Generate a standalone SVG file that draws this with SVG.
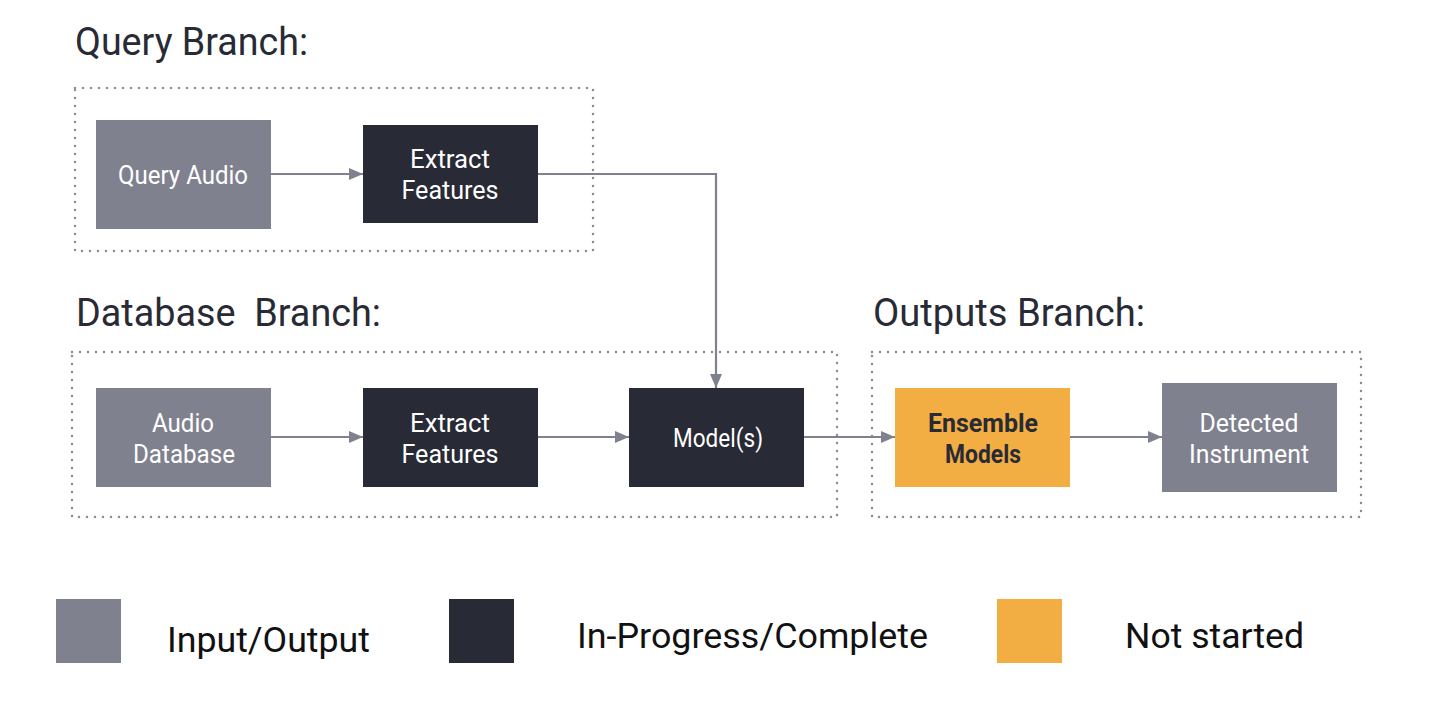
<svg xmlns="http://www.w3.org/2000/svg" width="1430" height="702" viewBox="0 0 1430 702">
<style>
.title{font-family:Roboto,"Liberation Sans",sans-serif;font-size:38px;fill:#282a35}
.lbl{font-family:Roboto,"Liberation Sans",sans-serif;font-size:25px;fill:#ffffff;text-anchor:middle}
.lblb{font-family:Roboto,"Liberation Sans",sans-serif;font-size:25px;font-weight:bold;fill:#282a35;text-anchor:middle}
.leg{font-family:Roboto,"Liberation Sans",sans-serif;font-size:35px;fill:#111111}
.io{fill:#7f818f}
.dk{fill:#282a35}
.ns{fill:#f2ae42}
.grp{fill:none;stroke:#8a8c99;stroke-width:2.5;stroke-linecap:round;stroke-dasharray:0 8}
.con{fill:none;stroke:#7f818f;stroke-width:2.2}
</style>
<defs>
<marker id="arr" markerWidth="14" markerHeight="12" refX="14" refY="6" orient="auto" markerUnits="userSpaceOnUse">
<path d="M0,0 L14,6 L0,12 Z" fill="#7f818f"/>
</marker>
</defs>
<rect width="1430" height="702" fill="#ffffff"/>

<g id="titles">
<text class="title" x="75" y="55" textLength="233" lengthAdjust="spacingAndGlyphs">Query Branch:</text>
<text class="title" x="76" y="326" textLength="305" lengthAdjust="spacingAndGlyphs" xml:space="preserve">Database  Branch:</text>
<text class="title" x="873" y="326" textLength="272" lengthAdjust="spacingAndGlyphs">Outputs Branch:</text>
</g>

<g id="groups">
<rect class="grp" x="75" y="88" width="518" height="163"/>
<rect class="grp" x="72" y="352" width="765" height="165"/>
<rect class="grp" x="872" y="352" width="489" height="165"/>
</g>

<g id="connectors">
<line class="con" x1="271" y1="174" x2="363" y2="174" marker-end="url(#arr)"/>
<path class="con" d="M538,174 H716 V388" marker-end="url(#arr)"/>
<line class="con" x1="271" y1="437" x2="363" y2="437" marker-end="url(#arr)"/>
<line class="con" x1="538" y1="437" x2="629" y2="437" marker-end="url(#arr)"/>
<line class="con" x1="804" y1="437" x2="895" y2="437" marker-end="url(#arr)"/>
<line class="con" x1="1070" y1="437" x2="1162" y2="437" marker-end="url(#arr)"/>
</g>

<g id="query-audio">
<rect class="io" x="96" y="120" width="175" height="109"/>
<text class="lbl" x="183" y="184" textLength="130" lengthAdjust="spacingAndGlyphs">Query Audio</text>
</g>
<g id="extract-features-query">
<rect class="dk" x="363" y="125" width="175" height="98"/>
<text class="lbl" x="450" y="168" textLength="80" lengthAdjust="spacingAndGlyphs">Extract</text>
<text class="lbl" x="450" y="199" textLength="97" lengthAdjust="spacingAndGlyphs">Features</text>
</g>
<g id="audio-database">
<rect class="io" x="96" y="388" width="175" height="99"/>
<text class="lbl" x="183" y="432" textLength="62" lengthAdjust="spacingAndGlyphs">Audio</text>
<text class="lbl" x="184" y="463" textLength="102" lengthAdjust="spacingAndGlyphs">Database</text>
</g>
<g id="extract-features-db">
<rect class="dk" x="363" y="388" width="175" height="99"/>
<text class="lbl" x="450" y="432" textLength="80" lengthAdjust="spacingAndGlyphs">Extract</text>
<text class="lbl" x="450" y="463" textLength="97" lengthAdjust="spacingAndGlyphs">Features</text>
</g>
<g id="models">
<rect class="dk" x="629" y="388" width="175" height="99"/>
<text class="lbl" x="718" y="447" textLength="90" lengthAdjust="spacingAndGlyphs">Model(s)</text>
</g>
<g id="ensemble-models">
<rect class="ns" x="895" y="388" width="175" height="99"/>
<text class="lblb" x="983" y="432" textLength="110" lengthAdjust="spacingAndGlyphs">Ensemble</text>
<text class="lblb" x="983" y="463" textLength="76" lengthAdjust="spacingAndGlyphs">Models</text>
</g>
<g id="detected-instrument">
<rect class="io" x="1162" y="383" width="175" height="109"/>
<text class="lbl" x="1249" y="432" textLength="99" lengthAdjust="spacingAndGlyphs">Detected</text>
<text class="lbl" x="1249" y="463" textLength="120" lengthAdjust="spacingAndGlyphs">Instrument</text>
</g>

<g id="legend">
<rect class="io" x="56" y="599" width="65" height="64"/>
<text class="leg" x="167" y="652" textLength="203" lengthAdjust="spacingAndGlyphs">Input/Output</text>
<rect class="dk" x="449" y="599" width="65" height="64"/>
<text class="leg" x="577" y="648" textLength="351" lengthAdjust="spacingAndGlyphs">In-Progress/Complete</text>
<rect class="ns" x="997" y="599" width="65" height="64"/>
<text class="leg" x="1125" y="648" textLength="179" lengthAdjust="spacingAndGlyphs">Not started</text>
</g>
</svg>
